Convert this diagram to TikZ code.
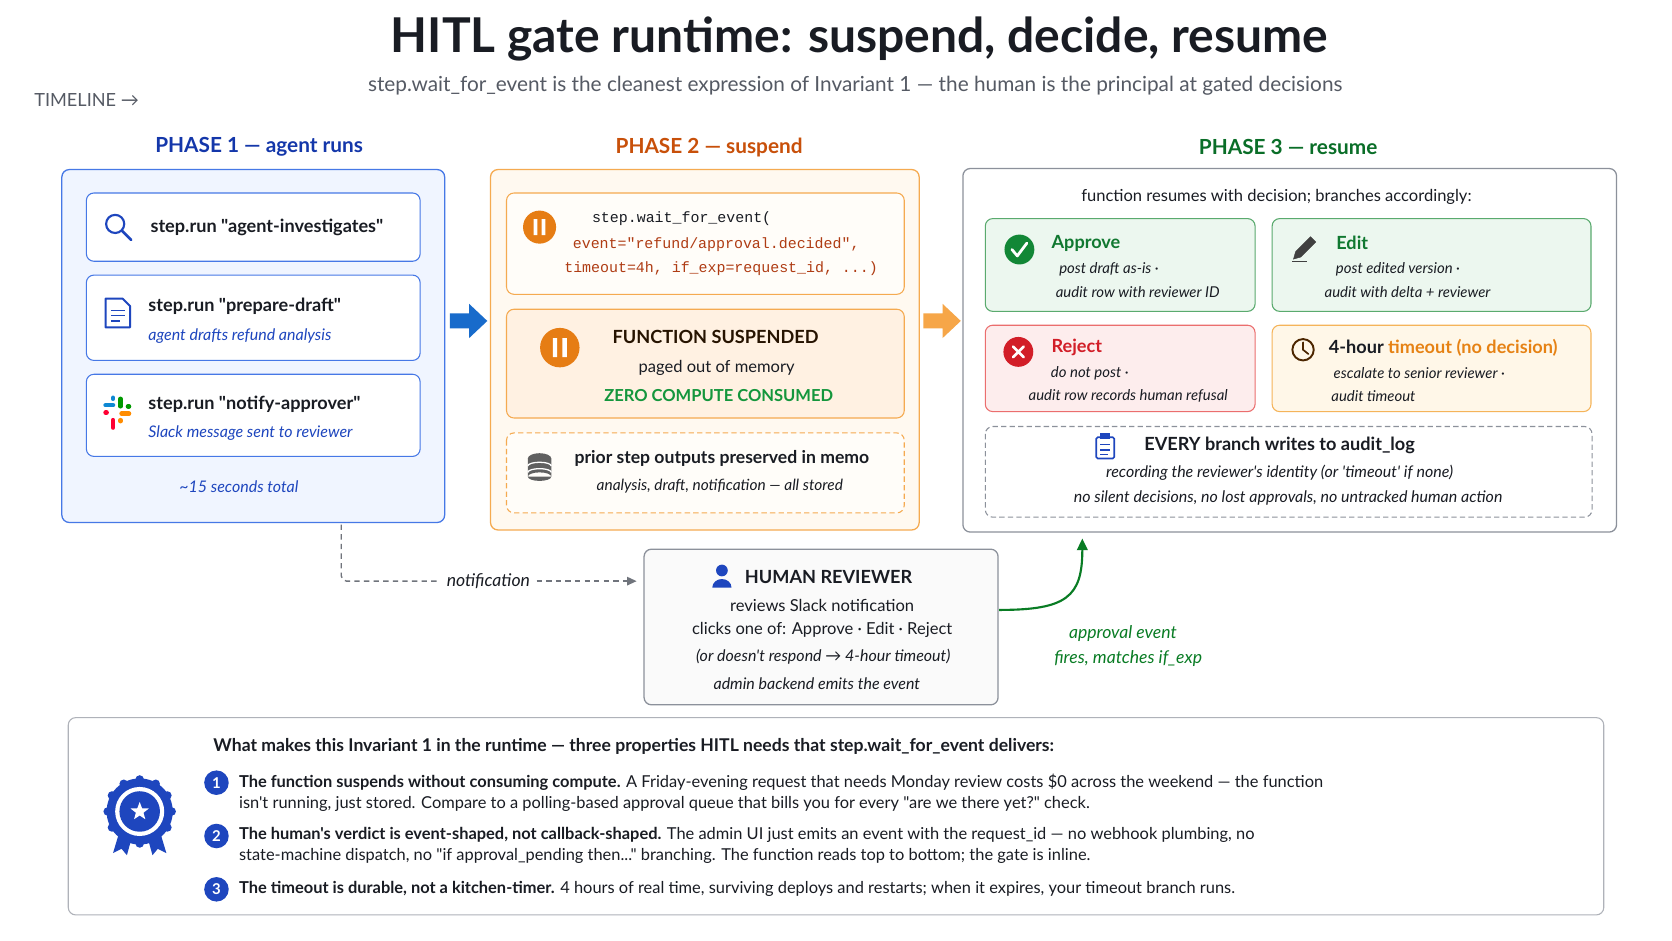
\documentclass[tikz,border=0pt]{standalone}
\usepackage{fontspec}
\setmainfont{Lato}[Ligatures=TeXOff]
\setmonofont{Liberation Mono}[Ligatures=TeXOff]
\usetikzlibrary{arrows.meta,shapes.geometric}
\newcommand{\fs}[1]{\fontsize{#1}{#1}\selectfont}
\newcommand{\dq}{"}
\definecolor{bluebd}{RGB}{70,120,230}
\definecolor{bluefill}{RGB}{240,245,255}
\definecolor{bluehd}{RGB}{20,55,170}
\definecolor{bluetx}{RGB}{30,70,190}
\definecolor{orbd}{RGB}{245,170,80}
\definecolor{orfill}{RGB}{255,249,240}
\definecolor{orfill2}{RGB}{255,241,226}
\definecolor{oricon}{RGB}{230,125,20}
\definecolor{orhd}{RGB}{200,80,10}
\definecolor{codered}{RGB}{175,60,20}
\definecolor{grnhd}{RGB}{10,110,40}
\definecolor{grnbd}{RGB}{90,170,110}
\definecolor{grnfill}{RGB}{236,247,239}
\definecolor{grntx}{RGB}{20,150,60}
\definecolor{redbd}{RGB}{235,110,110}
\definecolor{redfill}{RGB}{253,237,237}
\definecolor{redtx}{RGB}{210,30,40}
\definecolor{tobd}{RGB}{245,180,90}
\definecolor{tofill}{RGB}{255,247,232}
\definecolor{totx}{RGB}{230,130,20}
\definecolor{graybd}{RGB}{140,145,155}
\definecolor{txt}{RGB}{25,28,35}
\definecolor{subtx}{RGB}{85,90,100}
\begin{document}
\begin{tikzpicture}[x=1pt,y=-1pt,
  box/.style={draw,rounded corners=7pt,line width=1.2pt},
  t/.style={inner sep=0pt,text=txt},
  it/.style={inner sep=0pt,text=txt,font=\fs{14.5}\itshape},
  bd/.style={inner sep=0pt,text=txt,font=\fs{17}\bfseries}]
\fill[white] (0,0) rectangle (1568,882);
\useasboundingbox (0,0) rectangle (1568,882);
% title
\node[t,font=\fs{45}\bfseries] (title) at (806,37) {HITL gate runtime: suspend, decide, resume};
\node[t,text=subtx,font=\fs{19.5}] (sub) at (802,80) {step.wait\_for\_event is the cleanest expression of Invariant 1 — the human is the principal at gated decisions};
\node[t,text=subtx,font=\fs{17},anchor=west] (tl) at (32,94) {TIMELINE →};
% phase headers
\node[t,text=bluehd,font=\fs{19.5}\bfseries] (h1) at (243,138) {PHASE 1 — agent runs};
\node[t,text=orhd,font=\fs{19.5}\bfseries] (h2) at (665,138) {PHASE 2 — suspend};
\node[t,text=grnhd,font=\fs{19.5}\bfseries] (h3) at (1208,138) {PHASE 3 — resume};
% phase 1
\draw[box,draw=bluebd,fill=bluefill] (58,159) rectangle (417,490);
\coordinate (p1b) at (320,492);
\foreach \a/\b in {181/245,258/338,351/428}
  \draw[box,draw=bluebd,fill=white,line width=1pt] (81,\a) rectangle (394,\b);
\draw[bluetx,line width=2pt] (108,210) circle (8.5);
\draw[bluetx,line width=2.6pt,line cap=round] (114.5,216.5) -- (123,225);
\node[bd,anchor=west] (s1) at (141,213) {step.run \dq agent-investigates\dq};
\draw[bluetx,line width=1.8pt,line join=round] (99,280) -- (115,280) -- (122,287) -- (122,307) -- (99,307) -- cycle;
\draw[bluetx,line width=1.5pt] (104,291)--(117,291) (104,296)--(117,296) (104,301)--(113,301);
\node[bd,anchor=west] (s2) at (139,287) {step.run \dq prepare-draft\dq};
\node[t,anchor=west,text=bluetx,font=\fs{15}\itshape] (s2b) at (139,315) {agent drafts refund analysis};
\begin{scope}[line width=4.2pt,line cap=round]
\draw[cyan!70!blue] (99,380)--(106,380);
\draw[green!60!black] (113,374)--(113,381);
\draw[red!80!magenta] (106,394)--(106,401);
\draw[orange!90!yellow] (114,388)--(121,388);
\draw[cyan!70!blue] (106,373)--(106,374);
\draw[green!60!black] (120,381)--(121,381);
\draw[red!80!magenta] (99,387)--(100,387);
\draw[orange!90!yellow] (113,394)--(113,395);
\end{scope}
\node[bd,anchor=west] (s3) at (139,379) {step.run \dq notify-approver\dq};
\node[t,anchor=west,text=bluetx,font=\fs{15}\itshape] (s3b) at (139,406) {Slack message sent to reviewer};
\node[t,text=bluetx,font=\fs{15}\itshape] (s15) at (224,456) {\textasciitilde15 seconds total};
\fill[bluetx!80!cyan] (422,294) -- (440,294) -- (440,285) -- (457,301) -- (440,317) -- (440,308) -- (422,308) -- cycle;
% phase 2
\draw[box,draw=orbd,fill=orfill] (460,159) rectangle (862,497);
\draw[box,draw=orbd,fill=white!60!orfill,line width=1pt] (475,181) rectangle (848,276);
\fill[oricon] (506,213) circle (15.5);
\fill[white] (500.5,205.5) rectangle (504,220.5) (508,205.5) rectangle (511.5,220.5);
\node[t,font=\fs{14}\ttfamily,anchor=west] (c1) at (555,205) {step.wait\_for\_event(};
\node[t,text=codered,font=\fs{14}\ttfamily,anchor=west] (c2) at (537,229) {event=\dq refund/approval.decided\dq ,};
\node[t,text=codered,font=\fs{14}\ttfamily,anchor=west] (c3) at (529,252) {timeout=4h, if\_exp=request\_id, ...)};
\draw[box,draw=orbd,fill=orfill2,line width=1pt] (475,290) rectangle (848,392);
\fill[oricon] (525,326) circle (18.5);
\fill[white] (518.5,317) rectangle (522.5,335) (527.5,317) rectangle (531.5,335);
\node[bd,text=black!85!orange] (fsu) at (671,316) {FUNCTION SUSPENDED};
\node[t,font=\fs{15.5}] (pg) at (672,345) {paged out of memory};
\node[t,text=grntx,font=\fs{15.5}\bfseries] (zc) at (674,371) {ZERO COMPUTE CONSUMED};
\draw[box,draw=orbd,fill=white!60!orfill,line width=1pt,dash pattern=on 5pt off 3pt] (475,406) rectangle (848,481);
\begin{scope}
\fill[gray!75!black] (506,430) ellipse (11 and 5);
\fill[gray!75!black] (495,430) rectangle (517,447) (506,447) ellipse (11 and 4);
\draw[white,line width=1.2pt] (495,437) arc (180:360:11 and 3.5) (495,443) arc (180:360:11 and 3.5);
\end{scope}
\node[bd,font=\fs{16.5}\bfseries] (pr) at (677,430) {prior step outputs preserved in memo};
\node[it] (an) at (675,456) {analysis, draft, notification — all stored};
\fill[orbd!90!orange] (866,294) -- (884,294) -- (884,285) -- (901,301) -- (884,317) -- (884,308) -- (866,308) -- cycle;
% phase 3
\draw[box,draw=graybd,fill=white] (903,158) rectangle (1516,499);
\node[t,font=\fs{15.5}] (fr) at (1197,185) {function resumes with decision; branches accordingly:};
\draw[box,draw=grnbd,fill=grnfill,line width=1pt] (924,205) rectangle (1177,292);
\draw[box,draw=grnbd,fill=grnfill,line width=1pt] (1193,205) rectangle (1492,292);
\draw[box,draw=redbd,fill=redfill,line width=1pt] (924,305) rectangle (1177,386);
\draw[box,draw=tobd,fill=tofill,line width=1pt] (1193,305) rectangle (1492,386);
\fill[grntx!90!black] (956,234) circle (14);
\draw[white,line width=2.6pt,line cap=round,line join=round] (949,234) -- (954,240) -- (963,228);
\node[t,text=grntx!80!black,font=\fs{17}\bfseries,anchor=west] (ap) at (986,228) {Approve};
\node[it,font=\fs{14}\itshape] (ap1) at (1040,253) {post draft as-is ·};
\node[it,font=\fs{14}\itshape] (ap2) at (1067,274) {audit row with reviewer ID};
\draw[black!75,fill=black!75] (1213,243) -- (1215,236) -- (1229,222) -- (1234,227) -- (1220,241) -- cycle;
\draw[black!75,line width=1.4pt] (1212,245) -- (1226,245);
\node[t,text=grntx!80!black,font=\fs{17}\bfseries,anchor=west] (ed) at (1253,228) {Edit};
\node[it,font=\fs{14}\itshape] (ed1) at (1311,253) {post edited version ·};
\node[it,font=\fs{14}\itshape] (ed2) at (1320,274) {audit with delta + reviewer};
\fill[redtx] (955,330) circle (14);
\draw[white,line width=2.6pt,line cap=round] (950,325) -- (960,335) (960,325) -- (950,335);
\node[t,text=redtx,font=\fs{17}\bfseries,anchor=west] (rj) at (986,326) {Reject};
\node[it,font=\fs{14}\itshape] (rj1) at (1022,350) {do not post ·};
\node[it,font=\fs{14}\itshape] (rj2) at (1058,371) {audit row records human refusal};
\draw[black!70!orange,line width=1.8pt] (1222,328) circle (10);
\draw[black!70!orange,line width=1.6pt,line cap=round] (1222,321) -- (1222,328) -- (1227,332);
\node[t,font=\fs{17}\bfseries,anchor=west] (to) at (1246,326) {4-hour \textcolor{totx}{timeout (no decision)}};
\node[it,font=\fs{14}\itshape] (to1) at (1331,350) {escalate to senior reviewer ·};
\node[it,font=\fs{14}\itshape] (to2) at (1288,371) {audit timeout};
\draw[box,draw=graybd,line width=1pt,dash pattern=on 5pt off 3pt] (924,400) rectangle (1493,485);
\draw[bluetx,line width=1.6pt,rounded corners=1.5pt] (1028,410) rectangle (1045,430);
\fill[bluetx] (1032,406) rectangle (1041,412);
\draw[bluetx,line width=1.3pt] (1032,417)--(1041,417) (1032,422)--(1041,422) (1032,426)--(1039,426);
\node[bd] (ev) at (1200,418) {EVERY branch writes to audit\_log};
\node[it,font=\fs{15}\itshape] (ev1) at (1200,443) {recording the reviewer's identity (or 'timeout' if none)};
\node[it,font=\fs{15}\itshape] (ev2) at (1208,467) {no silent decisions, no lost approvals, no untracked human action};
\coordinate (p3b) at (1015,505);
% human reviewer
\draw[box,draw=graybd,fill=black!2] (604,515) rectangle (936,661);
\coordinate (hrl) at (597,545);
\coordinate (hrr) at (937,572);
\fill[bluetx] (677,535) circle (5.5);
\fill[bluetx] (668,551) arc (180:360:9 and 8) -- cycle;
\node[bd] (hr) at (777,541) {HUMAN REVIEWER};
\node[t,font=\fs{15.5}] (hr1) at (771,568) {reviews Slack notification};
\node[t,font=\fs{15.5}] (hr2) at (771,591) {clicks one of: Approve · Edit · Reject};
\node[it,font=\fs{15}\itshape] (hr3) at (772,616) {(or doesn't respond → 4-hour timeout)};
\node[it,font=\fs{15}\itshape] (hr4) at (766,641) {admin backend emits the event};
\node[t,font=\fs{16.5}\itshape,fill=white,inner xsep=6pt] (nt) at (458,545) {notification};
\draw[graybd!80!black,line width=1.3pt,dash pattern=on 5pt off 4pt] (p1b) -- (320,540) arc (180:90:5) -- (nt.west);
\draw[graybd!80!black,line width=1.3pt,dash pattern=on 5pt off 4pt,-{Triangle[length=9pt,width=8pt]}] (nt.east) -- (hrl);
\draw[grnhd!90!green,line width=2pt,-{Triangle[length=11pt,width=10pt]}] (hrr) .. controls (1000,572) and (1015,560) .. (p3b);
\node[t,text=grnhd!90!green,font=\fs{16.5}\itshape] (ae1) at (1053,594) {approval event};
\node[t,text=grnhd!90!green,font=\fs{16.5}\itshape] (ae2) at (1058,618) {fires, matches if\_exp};
% bottom
\draw[box,draw=graybd!70,fill=white,line width=1pt] (64,673) rectangle (1504,858);
\node[t,font=\fs{16.5}\bfseries,anchor=west] (bh) at (200,700) {What makes this Invariant 1 in the runtime — three properties HITL needs that step.wait\_for\_event delivers:};
\fill[bluetx] (112,780) -- (106,800) -- (114,796) -- (119,802) -- (124,784) -- cycle;
\fill[bluetx] (150,780) -- (156,800) -- (148,796) -- (143,802) -- (138,784) -- cycle;
\fill[bluetx] (131,761) circle (31);
\foreach \a in {0,30,...,330} \fill[bluetx] (131,761) ++(\a:30) circle (4);
\fill[white] (131,761) circle (23);
\fill[bluetx] (131,761) circle (19);
\node[star,star points=5,star point ratio=2.4,fill=white,inner sep=0pt,minimum size=18pt] (st) at (131,761) {};
\foreach \y/\n in {734/1,784/2,834/3}
  \node[circle,fill=bluetx,text=white,font=\fs{14}\bfseries,inner sep=0pt,minimum size=23pt] (n\n) at (203,\y) {\n};
\begin{scope}[every node/.style={t,font=\fs{15.4},anchor=west}]
\node (l1) at (224,734) {\textbf{The function suspends without consuming compute.} A Friday-evening request that needs Monday review costs \$0 across the weekend — the function};
\node (l2) at (224,754) {isn't running, just stored. Compare to a polling-based approval queue that bills you for every \dq are we there yet?\dq\ check.};
\node (l3) at (224,783) {\textbf{The human's verdict is event-shaped, not callback-shaped.} The admin UI just emits an event with the request\_id — no webhook plumbing, no};
\node (l4) at (224,803) {state-machine dispatch, no \dq if approval\_pending then...\dq\ branching. The function reads top to bottom; the gate is inline.};
\node (l5) at (224,834) {\textbf{The timeout is durable, not a kitchen-timer.} 4 hours of real time, surviving deploys and restarts; when it expires, your timeout branch runs.};
\end{scope}
\end{tikzpicture}
\end{document}
